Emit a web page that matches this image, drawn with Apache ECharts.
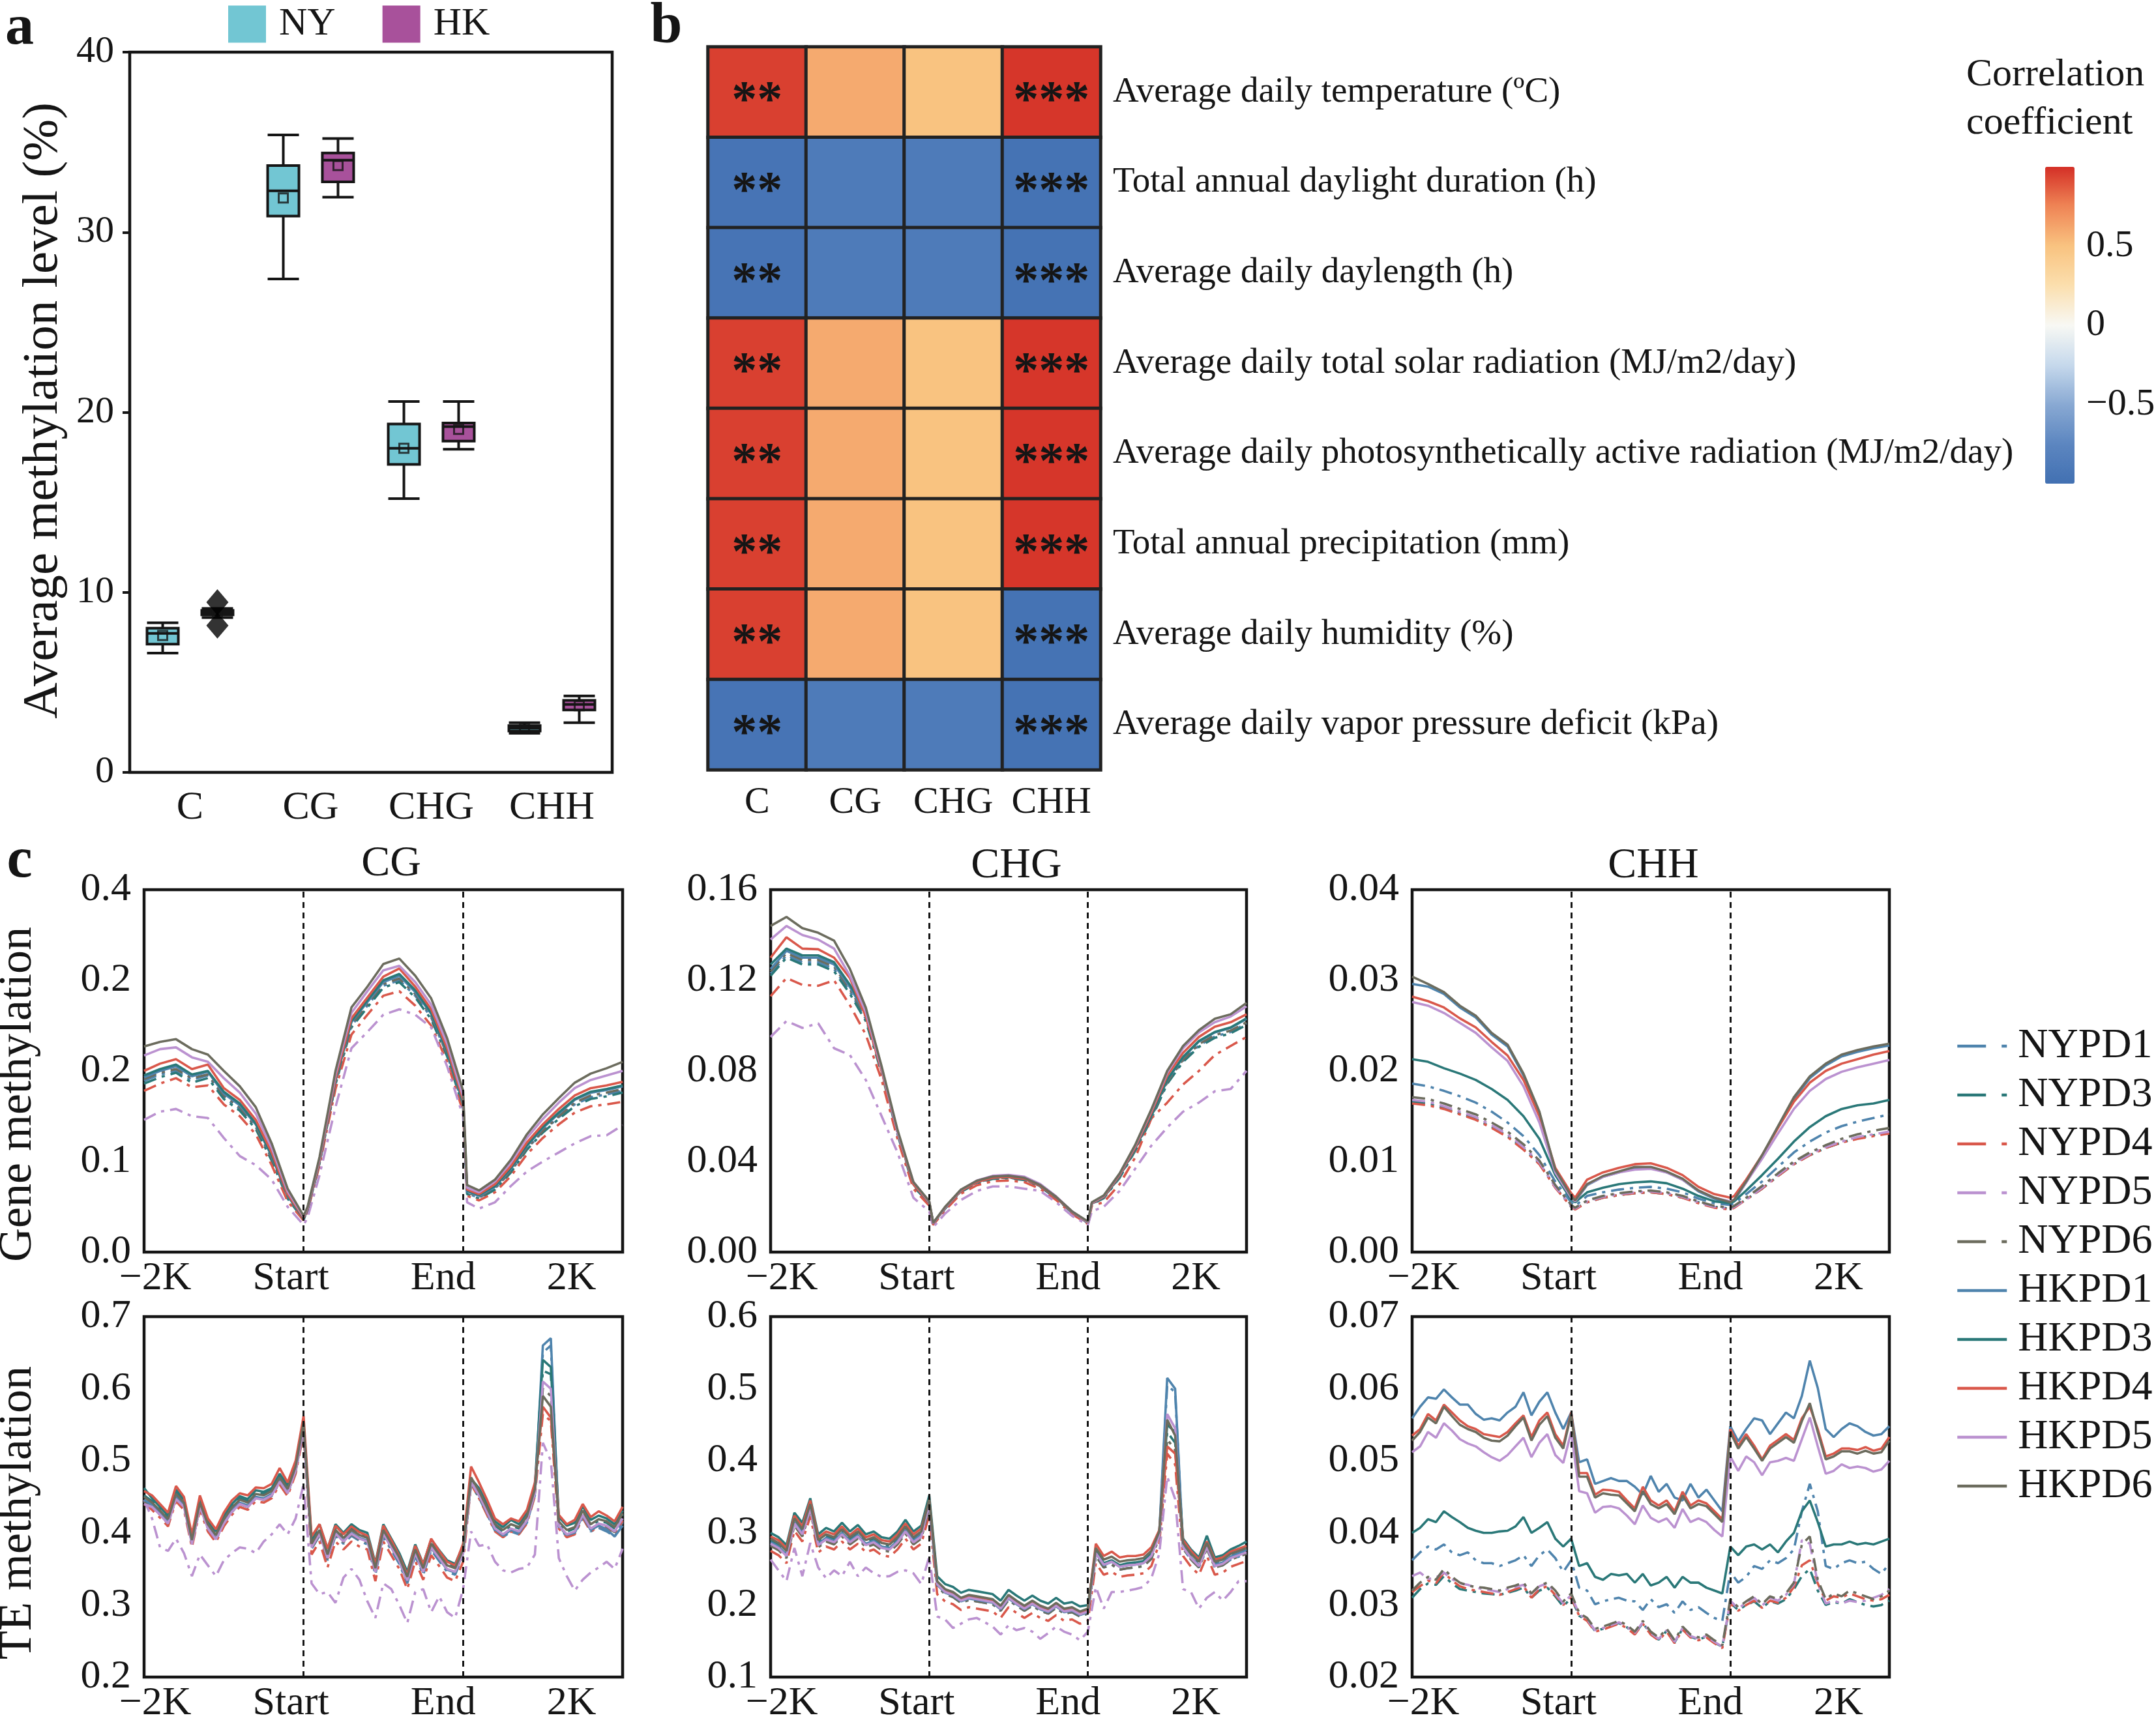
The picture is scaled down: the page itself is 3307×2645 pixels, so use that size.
<!DOCTYPE html>
<html>
<head>
<meta charset="utf-8">
<script src="https://cdn.jsdelivr.net/npm/echarts@6/dist/echarts.min.js"></script>
<style>
  html, body { margin: 0; padding: 0; background: #ffffff; }
  #chart { width: 3307px; height: 2645px; }
</style>
</head>
<body>
<div id="chart"></div>
<script>
// ---- panel a: box plots ----
const boxCats = ['C', 'CG', 'CHG', 'CHH'];
const boxNY = [[6.62, 7.12, 7.72, 8.01, 8.31], [27.4, 30.9, 32.3, 33.7, 35.4], [15.2, 17.1, 18.0, 19.35, 20.6], [2.17, 2.3, 2.46, 2.6, 2.76]];
const boxHK = [[8.6, 8.75, 8.85, 9.0, 9.1], [31.95, 32.8, 34.0, 34.4, 35.2], [17.95, 18.4, 19.2, 19.4, 20.6], [2.76, 3.47, 3.77, 4.0, 4.24]];
const meanNY = [7.6, 31.9, 18.0, 2.45];
const meanHK = [8.85, 33.7, 19.05, 3.7];
const outlierHK = [[0, 9.45], [0, 8.15]];

// ---- panel b: correlation heatmap ----
const heatCols = ['C', 'CG', 'CHG', 'CHH'];
const heatRows = [
  'Average daily temperature (\u00BAC)',
  'Total annual daylight duration (h)',
  'Average daily daylength (h)',
  'Average daily total solar radiation (MJ/m2/day)',
  'Average daily photosynthetically active radiation (MJ/m2/day)',
  'Total annual precipitation (mm)',
  'Average daily humidity (%)',
  'Average daily vapor pressure deficit (kPa)'
];
const heatVals = [
  [0.95, 0.6, 0.5, 0.98],
  [-0.95, -0.88, -0.88, -0.97],
  [-0.95, -0.88, -0.88, -0.97],
  [0.95, 0.6, 0.5, 0.98],
  [0.95, 0.6, 0.5, 0.98],
  [0.95, 0.6, 0.5, 0.98],
  [0.95, 0.6, 0.5, -0.97],
  [-0.95, -0.88, -0.88, -0.97]
];
const heatStars = ['**', '', '', '***'];
const cbTicks = [0.5, 0, -0.5];
const cbTickText = ['0.5', '0', '\u22120.5'];

// ---- panel c: methylation profiles ----
const sampleNames = ['NYPD1', 'NYPD3', 'NYPD4', 'NYPD5', 'NYPD6', 'HKPD1', 'HKPD3', 'HKPD4', 'HKPD5', 'HKPD6'];
const xTickPos = [1.4, 18.4, 37.5, 53.6];
const xTickText = ['\u22122K', 'Start', 'End', '2K'];
const cgGeneTicks = ['0.0', '0.1', '0.2', '0.2', '0.4'];
const geneX = [0, 2, 4, 6, 8, 10, 12, 14, 16, 18, 20, 20.5, 22, 24, 26, 28, 30, 32, 34, 36, 38, 40, 40.5, 42, 44, 46, 48, 50, 52, 54, 56, 58, 60];
const teX = Array.from({ length: 61 }, (_, i) => i);

const cgGene = {
  NYPD1: [.189,.196,.200,.190,.195,.171,.158,.138,.103,.060,.036,.046,.099,.186,.250,.272,.294,.300,.283,.259,.218,.161,.065,.060,.070,.089,.114,.133,.149,.163,.171,.174,.178],
  NYPD3: [.186,.193,.198,.187,.192,.169,.156,.136,.101,.059,.036,.046,.098,.185,.248,.270,.292,.298,.281,.257,.216,.160,.064,.059,.069,.088,.113,.132,.147,.161,.169,.172,.176],
  NYPD4: [.178,.186,.192,.182,.184,.163,.150,.130,.096,.056,.035,.045,.096,.180,.240,.262,.283,.288,.272,.250,.210,.155,.062,.057,.066,.084,.108,.126,.141,.154,.161,.163,.166],
  NYPD5: [.146,.155,.158,.150,.148,.126,.106,.096,.080,.050,.030,.038,.085,.160,.225,.243,.262,.268,.262,.248,.205,.150,.055,.048,.055,.073,.089,.100,.110,.120,.128,.129,.140],
  NYPD6: [.191,.198,.202,.192,.196,.173,.160,.139,.104,.061,.037,.047,.099,.187,.251,.274,.296,.302,.285,.261,.219,.162,.066,.061,.071,.090,.115,.134,.150,.165,.173,.176,.180],
  HKPD1: [.193,.200,.205,.194,.199,.175,.162,.141,.106,.062,.037,.047,.100,.189,.254,.276,.298,.305,.287,.263,.221,.164,.067,.062,.072,.092,.117,.137,.153,.168,.176,.179,.183],
  HKPD3: [.195,.202,.207,.196,.200,.177,.164,.142,.107,.063,.037,.047,.100,.190,.255,.278,.300,.307,.289,.264,.222,.165,.068,.063,.073,.093,.118,.138,.154,.169,.177,.180,.184],
  HKPD4: [.200,.208,.213,.202,.207,.181,.168,.146,.110,.064,.038,.048,.101,.192,.258,.281,.304,.313,.293,.268,.225,.168,.069,.064,.075,.095,.121,.141,.158,.173,.181,.184,.188],
  HKPD5: [.217,.224,.226,.215,.210,.192,.176,.153,.115,.067,.039,.049,.103,.196,.264,.288,.311,.316,.298,.273,.230,.172,.071,.066,.078,.099,.126,.147,.165,.181,.190,.195,.200],
  HKPD6: [.227,.232,.235,.224,.218,.200,.183,.160,.120,.070,.040,.050,.105,.200,.270,.293,.318,.324,.305,.280,.236,.178,.074,.068,.080,.102,.130,.152,.170,.187,.197,.203,.210]
};
const chgGene = {
  NYPD1: [.123,.131,.128,.128,.125,.115,.103,.080,.052,.030,.0217,.0125,.0193,.0268,.0306,.0325,.0328,.032,.029,.0239,.0175,.0129,.0213,.024,.033,.0452,.0592,.0748,.0845,.0912,.0952,.0972,.101],
  NYPD3: [.122,.130,.127,.127,.124,.114,.102,.079,.052,.029,.0216,.0124,.0192,.0266,.0304,.0323,.0326,.0318,.0288,.0237,.0174,.0128,.0212,.0238,.0328,.0449,.0588,.0743,.084,.0906,.0946,.0966,.1003],
  NYPD4: [.113,.121,.118,.1176,.120,.109,.096,.076,.050,.028,.0205,.012,.0185,.0258,.0295,.0313,.0316,.0309,.0279,.023,.0168,.0124,.0205,.022,.030,.042,.059,.066,.074,.080,.087,.091,.095],
  NYPD5: [.095,.102,.099,.101,.090,.087,.076,.060,.044,.024,.018,.011,.017,.023,.027,.029,.029,.028,.027,.022,.016,.012,.018,.020,.027,.037,.047,.055,.062,.066,.071,.072,.080],
  NYPD6: [.124,.132,.129,.129,.126,.116,.104,.080,.053,.030,.0218,.0126,.0194,.0269,.0307,.0326,.0329,.0321,.0291,.024,.0176,.013,.0214,.0241,.0332,.0455,.0595,.0752,.085,.0918,.0958,.0978,.1015],
  HKPD1: [.125,.133,.130,.130,.127,.117,.105,.081,.053,.030,.0218,.0126,.0195,.027,.0309,.0328,.0331,.0323,.0292,.0241,.0177,.013,.0215,.0242,.0335,.046,.060,.076,.086,.093,.097,.099,.103],
  HKPD3: [.127,.134,.131,.131,.128,.118,.106,.081,.053,.030,.0219,.0127,.0196,.0271,.031,.0329,.0332,.0324,.0293,.0242,.0178,.0131,.0216,.0243,.0336,.0461,.0602,.0762,.0862,.0932,.0972,.0992,.1032],
  HKPD4: [.130,.139,.134,.1337,.130,.121,.104,.080,.053,.030,.0220,.0127,.0196,.0271,.031,.0329,.0332,.0324,.0293,.0242,.0178,.0131,.0216,.0245,.034,.0465,.0615,.078,.088,.095,.0995,.1015,.105],
  HKPD5: [.138,.144,.140,.138,.134,.122,.106,.081,.053,.031,.0222,.0128,.0198,.0275,.0316,.0337,.0341,.0333,.030,.0246,.018,.0132,.0218,.0248,.0345,.0472,.0625,.0792,.090,.097,.1015,.104,.1085],
  HKPD6: [.144,.148,.143,.141,.1375,.125,.108,.082,.054,.031,.0225,.013,.020,.0276,.0315,.0334,.0337,.0328,.0296,.0244,.018,.0135,.022,.025,.0347,.0476,.063,.080,.091,.098,.103,.105,.110]
};
const chhGene = {
  NYPD1: [.0186,.0183,.0178,.0172,.0165,.0155,.0143,.0128,.0107,.0078,.0055,.0051,.0062,.0066,.0069,.0071,.0072,.0070,.0066,.0059,.0054,.0052,.0054,.0064,.0078,.0094,.0110,.0122,.0132,.0139,.0144,.0148,.0152],
  NYPD3: [.0166,.0164,.0159,.0153,.0147,.0138,.0128,.0114,.0098,.0072,.0050,.0048,.0055,.0060,.0063,.0065,.0066,.0064,.0060,.0055,.0050,.0048,.0050,.0058,.0070,.0084,.0097,.0107,.0115,.0121,.0126,.0129,.0132],
  NYPD4: [.0164,.0162,.0158,.0152,.0146,.0137,.0127,.0113,.0097,.0071,.0050,.0047,.0055,.0060,.0063,.0065,.0066,.0064,.0060,.0054,.0049,.0047,.0049,.0058,.0070,.0084,.0097,.0107,.0115,.0121,.0125,.0128,.0131],
  NYPD5: [.0168,.0166,.0161,.0155,.0149,.0140,.0130,.0116,.0099,.0072,.0051,.0048,.0056,.0061,.0064,.0066,.0067,.0065,.0061,.0055,.0050,.0048,.0050,.0058,.0071,.0085,.0098,.0108,.0116,.0122,.0127,.0130,.0133],
  NYPD6: [.0171,.0169,.0164,.0158,.0152,.0143,.0133,.0119,.0101,.0074,.0052,.0049,.0057,.0062,.0065,.0067,.0068,.0066,.0062,.0056,.0051,.0049,.0051,.0060,.0073,.0087,.0100,.0110,.0118,.0125,.0130,.0134,.0137],
  HKPD1: [.0296,.0293,.0285,.0270,.0259,.0240,.0227,.0195,.0153,.0090,.0061,.0056,.0074,.0083,.0088,.0093,.0093,.0088,.0080,.0067,.0059,.0054,.0057,.0077,.0106,.0138,.0169,.0192,.0206,.0216,.0221,.0225,.0228],
  HKPD3: [.0213,.0210,.0203,.0197,.0190,.0180,.0168,.0150,.0125,.0085,.0058,.0055,.0066,.0071,.0075,.0077,.0078,.0076,.0070,.0062,.0056,.0054,.0056,.0068,.0085,.0103,.0122,.0138,.0150,.0158,.0162,.0164,.0168],
  HKPD4: [.0282,.0277,.0270,.0258,.0248,.0232,.0217,.0190,.0150,.0093,.0065,.0060,.0080,.0088,.0093,.0097,.0098,.0093,.0085,.0072,.0064,.0060,.0062,.0080,.0107,.0137,.0166,.0187,.0200,.0208,.0213,.0218,.0222],
  HKPD5: [.0276,.0272,.0264,.0253,.0242,.0226,.0211,.0183,.0143,.0088,.0060,.0056,.0075,.0083,.0088,.0091,.0092,.0088,.0080,.0068,.0060,.0056,.0058,.0077,.0103,.0131,.0158,.0178,.0191,.0199,.0204,.0208,.0212],
  HKPD6: [.0304,.0296,.0287,.0272,.0261,.0242,.0229,.0197,.0155,.0091,.0062,.0057,.0075,.0084,.0089,.0094,.0094,.0089,.0081,.0068,.0060,.0055,.0058,.0078,.0107,.0139,.0171,.0194,.0208,.0218,.0223,.0227,.0230]
};
const cgTE = {
  NYPD1: [.444,.437,.426,.414,.448,.437,.384,.436,.406,.390,.413,.429,.440,.436,.448,.446,.451,.470,.454,.485,.540,.378,.396,.362,.396,.385,.396,.389,.384,.342,.395,.376,.357,.330,.368,.342,.376,.361,.346,.342,.369,.466,.449,.426,.403,.394,.402,.398,.414,.452,.650,.660,.408,.395,.398,.421,.402,.407,.402,.395,.415],
  NYPD3: [.452,.444,.433,.421,.456,.444,.392,.444,.414,.399,.421,.437,.448,.444,.456,.454,.460,.479,.463,.494,.550,.387,.406,.372,.406,.395,.406,.399,.395,.353,.406,.387,.368,.341,.379,.353,.387,.372,.357,.353,.379,.472,.456,.433,.410,.402,.410,.406,.421,.459,.625,.620,.414,.402,.406,.429,.410,.417,.414,.406,.425],
  NYPD4: [.440,.432,.421,.409,.444,.432,.380,.432,.402,.387,.409,.425,.436,.432,.444,.442,.448,.467,.451,.482,.538,.370,.388,.352,.388,.377,.388,.381,.377,.333,.388,.369,.350,.322,.361,.335,.369,.354,.338,.333,.360,.468,.448,.425,.402,.394,.402,.398,.413,.451,.565,.555,.406,.394,.398,.421,.402,.409,.406,.398,.417],
  NYPD5: [.446,.420,.380,.375,.392,.372,.340,.370,.355,.340,.362,.372,.380,.378,.372,.388,.398,.412,.398,.420,.468,.330,.315,.318,.303,.338,.350,.335,.305,.282,.330,.322,.300,.275,.318,.322,.290,.312,.290,.282,.322,.402,.382,.384,.360,.348,.345,.350,.352,.370,.525,.500,.365,.340,.320,.335,.345,.352,.360,.350,.378],
  NYPD6: [.443,.436,.425,.413,.447,.436,.384,.436,.406,.391,.413,.429,.440,.436,.448,.446,.452,.470,.455,.485,.542,.379,.398,.364,.398,.387,.398,.391,.387,.345,.398,.379,.360,.333,.371,.345,.379,.364,.349,.345,.371,.468,.450,.428,.405,.397,.405,.401,.416,.454,.600,.590,.409,.397,.401,.424,.405,.412,.409,.401,.420],
  HKPD1: [.446,.439,.428,.416,.450,.439,.386,.438,.408,.392,.415,.431,.442,.438,.450,.448,.454,.473,.457,.488,.545,.382,.400,.366,.400,.389,.400,.393,.389,.346,.399,.380,.360,.333,.371,.345,.379,.364,.349,.345,.372,.470,.452,.428,.405,.396,.404,.400,.416,.455,.660,.670,.410,.397,.400,.424,.404,.410,.405,.395,.410],
  HKPD3: [.462,.448,.436,.424,.460,.447,.394,.448,.417,.402,.424,.440,.451,.447,.459,.457,.462,.482,.466,.496,.548,.392,.412,.378,.412,.400,.412,.404,.400,.358,.412,.392,.372,.346,.384,.357,.391,.376,.362,.357,.383,.475,.462,.440,.416,.408,.418,.412,.428,.466,.640,.630,.422,.410,.414,.437,.418,.424,.420,.412,.431],
  HKPD4: [.458,.452,.440,.428,.465,.450,.398,.452,.420,.405,.428,.445,.455,.452,.463,.462,.468,.490,.470,.500,.562,.395,.412,.378,.410,.398,.409,.401,.396,.356,.410,.390,.368,.342,.382,.356,.392,.375,.360,.355,.385,.492,.470,.446,.420,.412,.420,.416,.432,.470,.575,.560,.425,.412,.418,.440,.422,.430,.424,.416,.436],
  HKPD5: [.440,.436,.425,.413,.447,.436,.384,.436,.406,.391,.413,.429,.440,.436,.448,.446,.452,.471,.455,.486,.545,.380,.399,.365,.399,.388,.399,.392,.388,.346,.399,.380,.361,.334,.372,.346,.380,.365,.350,.346,.372,.470,.452,.429,.406,.398,.406,.402,.417,.455,.610,.600,.410,.398,.402,.425,.406,.413,.410,.402,.420],
  HKPD6: [.450,.442,.431,.419,.454,.442,.390,.442,.412,.397,.419,.435,.446,.442,.454,.452,.458,.477,.461,.492,.553,.385,.404,.370,.404,.393,.404,.397,.393,.351,.404,.385,.366,.339,.377,.351,.385,.370,.355,.351,.377,.477,.458,.435,.412,.404,.412,.408,.423,.461,.590,.575,.416,.404,.408,.431,.412,.419,.416,.408,.427]
};
const chgTE = {
  NYPD1: [.284,.278,.267,.312,.297,.332,.282,.290,.286,.297,.286,.294,.282,.286,.278,.276,.286,.301,.286,.294,.336,.226,.215,.211,.203,.207,.205,.203,.201,.192,.207,.199,.192,.199,.192,.188,.196,.188,.190,.184,.188,.268,.252,.256,.249,.251,.252,.254,.264,.296,.505,.495,.278,.263,.252,.278,.252,.255,.263,.267,.271],
  NYPD3: [.290,.284,.273,.318,.303,.338,.288,.296,.292,.303,.292,.300,.288,.292,.284,.282,.292,.307,.292,.300,.344,.231,.220,.216,.208,.212,.210,.208,.206,.197,.212,.204,.197,.204,.197,.193,.201,.193,.195,.189,.193,.274,.258,.262,.255,.257,.258,.260,.270,.298,.440,.425,.283,.268,.257,.283,.257,.260,.268,.272,.276],
  NYPD4: [.275,.269,.258,.303,.288,.323,.273,.281,.277,.288,.277,.285,.273,.277,.269,.267,.277,.292,.277,.285,.325,.215,.205,.201,.193,.197,.195,.193,.191,.182,.197,.189,.182,.189,.182,.178,.186,.178,.180,.174,.178,.258,.242,.246,.239,.241,.242,.244,.254,.285,.410,.395,.268,.253,.242,.268,.242,.245,.253,.257,.261],
  NYPD5: [.263,.248,.233,.279,.240,.286,.252,.237,.248,.240,.260,.240,.252,.244,.239,.240,.246,.248,.244,.229,.267,.184,.180,.168,.174,.180,.182,.176,.170,.159,.172,.165,.168,.163,.153,.161,.170,.163,.159,.151,.163,.225,.195,.218,.218,.220,.222,.225,.237,.271,.378,.347,.222,.218,.195,.210,.218,.206,.218,.233,.233],
  NYPD6: [.282,.276,.265,.310,.295,.330,.280,.288,.284,.295,.284,.292,.280,.284,.276,.274,.284,.299,.284,.292,.335,.226,.215,.211,.203,.207,.205,.203,.201,.192,.207,.199,.192,.199,.192,.188,.196,.188,.190,.184,.188,.268,.252,.256,.249,.251,.252,.254,.264,.294,.430,.415,.278,.263,.252,.278,.252,.255,.263,.267,.271],
  HKPD1: [.287,.281,.270,.315,.300,.335,.285,.293,.289,.300,.289,.297,.285,.289,.281,.279,.289,.304,.289,.298,.340,.228,.217,.213,.205,.209,.207,.205,.203,.194,.209,.201,.194,.201,.194,.190,.198,.190,.192,.186,.190,.272,.255,.260,.253,.255,.256,.258,.268,.300,.515,.500,.280,.266,.255,.282,.256,.259,.267,.272,.277],
  HKPD3: [.300,.294,.283,.328,.314,.348,.298,.307,.302,.314,.302,.311,.298,.302,.294,.292,.302,.318,.302,.310,.352,.240,.229,.225,.217,.221,.219,.217,.215,.206,.221,.213,.206,.213,.206,.202,.210,.202,.204,.198,.200,.276,.258,.262,.255,.258,.259,.261,.271,.298,.450,.440,.292,.277,.266,.296,.266,.269,.277,.282,.288],
  HKPD4: [.295,.290,.279,.324,.309,.345,.294,.302,.298,.309,.297,.306,.294,.298,.290,.288,.298,.313,.298,.306,.345,.232,.221,.217,.209,.213,.211,.209,.207,.198,.213,.205,.198,.205,.198,.194,.202,.194,.196,.190,.194,.285,.268,.274,.266,.268,.268,.270,.280,.304,.420,.410,.290,.275,.263,.288,.263,.266,.274,.278,.282],
  HKPD5: [.285,.279,.268,.313,.298,.333,.283,.291,.287,.298,.287,.295,.283,.287,.279,.277,.287,.302,.287,.295,.340,.229,.218,.214,.206,.210,.208,.206,.204,.195,.210,.202,.195,.202,.195,.191,.199,.191,.193,.187,.191,.272,.256,.260,.253,.255,.256,.258,.268,.296,.465,.445,.280,.265,.254,.280,.254,.257,.265,.269,.273],
  HKPD6: [.292,.286,.275,.320,.305,.340,.290,.298,.294,.305,.294,.302,.290,.294,.286,.284,.294,.309,.294,.302,.347,.233,.222,.218,.210,.214,.212,.210,.208,.199,.214,.206,.199,.206,.199,.195,.203,.195,.197,.191,.195,.279,.263,.267,.260,.262,.263,.265,.275,.302,.457,.435,.286,.271,.260,.286,.260,.263,.271,.275,.279]
};
const chhTE = {
  NYPD1: [.0362,.0373,.0381,.0377,.0384,.0373,.0369,.0373,.0362,.0358,.0358,.0354,.0358,.0362,.0369,.0354,.0369,.0377,.0365,.0346,.0362,.0324,.0320,.0301,.0305,.0308,.0310,.0306,.0305,.0293,.0308,.0297,.0301,.0289,.0305,.0293,.0297,.0289,.0282,.0278,.0346,.0331,.0339,.0354,.0350,.0362,.0358,.0365,.0377,.0430,.0468,.0430,.0354,.0350,.0358,.0362,.0358,.0360,.0350,.0343,.0358],
  NYPD3: [.0310,.0322,.0330,.0328,.0340,.0330,.0322,.0320,.0318,.0316,.0315,.0314,.0317,.0320,.0324,.0310,.0320,.0324,.0312,.0298,.0310,.0285,.0279,.0264,.0267,.0271,.0275,.0269,.0260,.0275,.0260,.0252,.0264,.0248,.0267,.0256,.0252,.0256,.0248,.0242,.0303,.0293,.0300,.0305,.0296,.0305,.0302,.0308,.0322,.0340,.0350,.0320,.0300,.0304,.0302,.0308,.0304,.0300,.0298,.0300,.0306],
  NYPD4: [.0318,.0326,.0334,.0330,.0345,.0334,.0326,.0322,.0320,.0318,.0316,.0314,.0318,.0322,.0326,.0310,.0322,.0326,.0314,.0300,.0311,.0285,.0278,.0263,.0266,.0270,.0274,.0268,.0259,.0274,.0259,.0251,.0263,.0247,.0266,.0255,.0251,.0255,.0247,.0240,.0302,.0292,.0300,.0306,.0296,.0306,.0303,.0310,.0325,.0355,.0362,.0330,.0306,.0312,.0310,.0316,.0312,.0308,.0306,.0308,.0314],
  NYPD5: [.0340,.0345,.0336,.0338,.0345,.0336,.0330,.0328,.0324,.0322,.0320,.0318,.0322,.0325,.0328,.0314,.0326,.0330,.0316,.0302,.0314,.0287,.0280,.0265,.0268,.0272,.0276,.0270,.0261,.0276,.0261,.0253,.0265,.0249,.0268,.0257,.0253,.0257,.0249,.0242,.0306,.0295,.0303,.0310,.0299,.0310,.0306,.0314,.0329,.0390,.0385,.0330,.0302,.0306,.0302,.0306,.0304,.0306,.0310,.0314,.0322],
  NYPD6: [.0320,.0331,.0339,.0335,.0350,.0339,.0331,.0327,.0325,.0324,.0322,.0320,.0324,.0327,.0331,.0316,.0327,.0331,.0320,.0305,.0316,.0289,.0282,.0267,.0270,.0274,.0278,.0272,.0263,.0278,.0263,.0255,.0267,.0251,.0270,.0259,.0255,.0259,.0251,.0244,.0308,.0297,.0305,.0312,.0301,.0312,.0308,.0316,.0331,.0384,.0395,.0335,.0308,.0316,.0312,.0320,.0316,.0312,.0308,.0312,.0320],
  HKPD1: [.0559,.0575,.0588,.0586,.0599,.0588,.0578,.0578,.0565,.0557,.0559,.0556,.0567,.0575,.0595,.0563,.0582,.0595,.0567,.0544,.0567,.0498,.0502,.0468,.0472,.0476,.0472,.0472,.0464,.0453,.0479,.0457,.0468,.0449,.0445,.0468,.0449,.0460,.0445,.0430,.0548,.0527,.0544,.0559,.0556,.0537,.0552,.0567,.0559,.0590,.0639,.0601,.0544,.0533,.0544,.0552,.0548,.0540,.0535,.0537,.0548],
  HKPD3: [.0400,.0407,.0419,.0415,.0430,.0422,.0415,.0407,.0403,.0400,.0400,.0402,.0403,.0409,.0422,.0400,.0407,.0415,.0392,.0381,.0392,.0354,.0358,.0339,.0335,.0343,.0341,.0343,.0331,.0343,.0327,.0331,.0339,.0324,.0339,.0331,.0331,.0324,.0320,.0316,.0381,.0369,.0381,.0384,.0377,.0384,.0373,.0388,.0400,.0430,.0445,.0415,.0381,.0384,.0384,.0388,.0384,.0386,.0384,.0388,.0392],
  HKPD4: [.0535,.0544,.0565,.0556,.0578,.0567,.0556,.0548,.0544,.0537,.0535,.0533,.0540,.0552,.0563,.0533,.0556,.0567,.0537,.0521,.0567,.0483,.0483,.0453,.0460,.0459,.0457,.0445,.0434,.0464,.0445,.0438,.0445,.0430,.0457,.0438,.0445,.0441,.0430,.0419,.0544,.0521,.0537,.0521,.0502,.0521,.0529,.0537,.0529,.0559,.0575,.0544,.0506,.0510,.0517,.0517,.0515,.0519,.0514,.0517,.0533],
  HKPD5: [.0512,.0520,.0540,.0532,.0552,.0542,.0530,.0524,.0520,.0512,.0505,.0500,.0508,.0520,.0532,.0505,.0525,.0537,.0508,.0497,.0540,.0458,.0455,.0428,.0436,.0437,.0434,.0424,.0412,.0438,.0421,.0415,.0420,.0407,.0433,.0415,.0420,.0415,.0404,.0395,.0506,.0486,.0506,.0498,.0480,.0498,.0500,.0504,.0500,.0530,.0560,.0520,.0482,.0486,.0495,.0490,.0492,.0490,.0485,.0488,.0500],
  HKPD6: [.0528,.0540,.0560,.0552,.0575,.0562,.0550,.0544,.0540,.0532,.0528,.0527,.0535,.0548,.0560,.0528,.0550,.0562,.0532,.0517,.0565,.0478,.0478,.0449,.0455,.0453,.0452,.0441,.0430,.0458,.0440,.0434,.0440,.0426,.0452,.0434,.0440,.0437,.0426,.0415,.0540,.0517,.0533,.0517,.0500,.0517,.0525,.0533,.0525,.0555,.0580,.0540,.0502,.0506,.0513,.0513,.0510,.0514,.0510,.0512,.0528]
};

const SERIF = 'Liberation Serif';
const INK = '#151515';
const NY_COLOR = '#72c6d3';
const HK_COLOR = '#a8519b';
const sampleColor = {
  PD1: '#4f84ad', PD3: '#2a7878', PD4: '#d9584b', PD5: '#bb92d0', PD6: '#6c6c5e'
};

const chart = echarts.init(document.getElementById('chart'));

// boxplot places two boxes at +-42px in a 185px band
const boxShift = 0.2269;

const grids = [
  { left: 199, top: 80, width: 740, height: 1105 },
  { left: 1086, top: 72, width: 602, height: 1109 }
];
const cLeft = [221, 1182, 2166];
const cWidth = [734, 730, 732];
const cTop = [1365, 2020];
const cHeight = [556, 560];
for (let r = 0; r < 2; r++) {
  for (let c = 0; c < 3; c++) {
    grids.push({ left: cLeft[c], top: cTop[r], width: cWidth[c], height: cHeight[r] });
  }
}
grids.forEach((g, i) => {
  g.show = i !== 1;
  g.borderColor = INK;
  g.borderWidth = 4.5;
  g.containLabel = false;
});

const xAxes = [
  {
    type: 'category', gridIndex: 0, data: boxCats,
    axisLine: { show: false }, axisTick: { show: false },
    axisLabel: { fontSize: 62, fontFamily: SERIF, color: INK, margin: 24 }
  },
  { type: 'value', gridIndex: 0, min: 0, max: 4, show: false },
  {
    type: 'category', gridIndex: 1, data: heatCols,
    axisLine: { show: false }, axisTick: { show: false },
    axisLabel: { interval: 0, fontSize: 58, fontFamily: SERIF, color: INK, margin: 22 }
  }
];
const yAxes = [
  {
    type: 'value', gridIndex: 0, min: 0, max: 40, interval: 10,
    splitLine: { show: false }, axisLine: { show: false },
    axisTick: { show: true, length: 11, lineStyle: { color: INK, width: 4 } },
    axisLabel: { fontSize: 58, fontFamily: SERIF, color: INK, margin: 24 }
  },
  {
    type: 'category', gridIndex: 1, data: heatRows, inverse: true, position: 'right',
    axisLine: { show: false }, axisTick: { show: false },
    axisLabel: { interval: 0, fontSize: 55, fontFamily: SERIF, color: INK, margin: 19 }
  }
];

const panelData = [cgGene, chgGene, chhGene, cgTE, chgTE, chhTE];
const panelX = [geneX, geneX, geneX, teX, teX, teX];
const panelY = [
  { min: 0, max: 0.4, interval: 0.1, fmt: v => cgGeneTicks[Math.round(v * 10)] },
  { min: 0, max: 0.16, interval: 0.04, fmt: v => v.toFixed(2) },
  { min: 0, max: 0.04, interval: 0.01, fmt: v => v.toFixed(2) },
  { min: 0.2, max: 0.7, interval: 0.1, fmt: v => v.toFixed(1) },
  { min: 0.1, max: 0.6, interval: 0.1, fmt: v => v.toFixed(1) },
  { min: 0.02, max: 0.07, interval: 0.01, fmt: v => v.toFixed(2) }
];

panelData.forEach((_, p) => {
  xAxes.push({
    type: 'value', gridIndex: 2 + p, min: 0, max: 60,
    splitLine: { show: false }, axisLine: { show: false }, axisTick: { show: false },
    axisLabel: {
      customValues: xTickPos, fontSize: 62, fontFamily: SERIF, color: INK, margin: 10,
      formatter: v => xTickText[xTickPos.indexOf(v)]
    }
  });
  yAxes.push({
    type: 'value', gridIndex: 2 + p,
    min: panelY[p].min, max: panelY[p].max, interval: panelY[p].interval,
    splitLine: { show: false }, axisLine: { show: false }, axisTick: { show: false },
    axisLabel: { fontSize: 62, fontFamily: SERIF, color: INK, margin: 20, formatter: panelY[p].fmt }
  });
});

const series = [
  {
    type: 'boxplot', name: 'NY', xAxisIndex: 0, yAxisIndex: 0, data: boxNY,
    boxWidth: [48, 48],
    itemStyle: { color: NY_COLOR, borderColor: INK, borderWidth: 4 }
  },
  {
    type: 'boxplot', name: 'HK', xAxisIndex: 0, yAxisIndex: 0, data: boxHK,
    boxWidth: [48, 48],
    itemStyle: { color: HK_COLOR, borderColor: INK, borderWidth: 4 }
  },
  {
    type: 'scatter', xAxisIndex: 1, yAxisIndex: 0, symbol: 'rect', symbolSize: 14, z: 5,
    data: meanNY.map((v, i) => [i + 0.5 - boxShift, v]),
    itemStyle: { color: 'rgba(0,0,0,0)', borderColor: INK, borderWidth: 3 }
  },
  {
    type: 'scatter', xAxisIndex: 1, yAxisIndex: 0, symbol: 'rect', symbolSize: 14, z: 5,
    data: meanHK.map((v, i) => [i + 0.5 + boxShift, v]),
    itemStyle: { color: 'rgba(0,0,0,0)', borderColor: INK, borderWidth: 3 }
  },
  {
    type: 'scatter', xAxisIndex: 1, yAxisIndex: 0, symbol: 'diamond', symbolSize: [34, 40], z: 5,
    data: outlierHK.map(d => [d[0] + 0.5 + boxShift, d[1]]),
    itemStyle: { color: '#000000' }
  }
];

const heatIndex = series.length;
const heatData = [];
heatVals.forEach((row, r) => {
  row.forEach((v, c) => {
    heatData.push({
      value: [c, r, v],
      label: { show: heatStars[c] !== '', formatter: heatStars[c] }
    });
  });
});
series.push({
  type: 'heatmap', xAxisIndex: 2, yAxisIndex: 1, data: heatData,
  itemStyle: { borderColor: '#222222', borderWidth: 5 },
  label: { fontSize: 78, fontWeight: 'bold', fontFamily: SERIF, color: INK, offset: [0, 16] }
});

panelData.forEach((d, p) => {
  sampleNames.forEach((name, k) => {
    const col = sampleColor[name.slice(2)];
    const s = {
      type: 'line', name: name, xAxisIndex: 3 + p, yAxisIndex: 2 + p,
      data: panelX[p].map((x, j) => [x, d[name][j]]),
      symbol: 'none', silent: true,
      lineStyle: { color: col, width: 3.6, type: name.startsWith('NY') ? [20, 9, 5, 9] : 'solid' },
      itemStyle: { color: col }
    };
    if (k === 0) {
      s.markLine = {
        silent: true, symbol: 'none', label: { show: false },
        lineStyle: { color: INK, type: [9, 7], width: 3 },
        data: [{ xAxis: 20 }, { xAxis: 40 }]
      };
    }
    series.push(s);
  });
});

const graphics = [];
function addText(text, x, y, size, opts) {
  const o = opts || {};
  graphics.push({
    type: 'text', x: x, y: y, rotation: o.rotation || 0,
    style: {
      text: text, fontSize: size, fontFamily: SERIF, fontWeight: o.weight || 'normal',
      fill: INK, align: o.align || 'center', verticalAlign: 'middle'
    }
  });
}
addText('a', 30, 44, 88, { weight: 'bold' });
addText('b', 1022, 42, 88, { weight: 'bold' });
addText('c', 30, 1322, 88, { weight: 'bold' });
addText('Average methylation level (%)', 67, 630, 77, { rotation: Math.PI / 2 });
addText('Gene methylation', 28, 1679, 72, { rotation: Math.PI / 2 });
addText('TE methylation', 28, 2321, 72, { rotation: Math.PI / 2 });
addText('CG', 600, 1326, 66);
addText('CHG', 1559, 1329, 66);
addText('CHH', 2536, 1329, 66);
addText('Correlation', 3016, 115, 60, { align: 'left' });
addText('coefficient', 3016, 189, 60, { align: 'left' });
// colour bar spans 256..742 for -1..1
cbTicks.forEach((v, i) => {
  addText(cbTickText[i], 3200, 256 + (1 - v) / 2 * 486, 58, { align: 'left' });
});

const option = {
  backgroundColor: '#ffffff',
  animation: false,
  textStyle: { fontFamily: SERIF },
  grid: grids,
  xAxis: xAxes,
  yAxis: yAxes,
  legend: [
    {
      data: [
        { name: 'NY', itemStyle: { color: NY_COLOR, borderWidth: 0 } },
        { name: 'HK', itemStyle: { color: HK_COLOR, borderWidth: 0 } }
      ],
      left: 350, top: 7, padding: 0,
      icon: 'rect', itemWidth: 58, itemHeight: 57, itemGap: 72,
      itemStyle: { borderWidth: 0 },
      textStyle: { fontSize: 60, fontFamily: SERIF, color: INK, padding: [0, 0, 0, 15] }
    },
    {
      data: sampleNames.map(n => ({
        name: n,
        lineStyle: n.startsWith('NY') ? { type: [44, 24, 8, 24] } : { type: 'solid' }
      })),
      orient: 'vertical', left: 3000, top: 1573, padding: 0,
      itemWidth: 76, itemHeight: 10, itemGap: 11,
      itemStyle: { opacity: 0 },
      lineStyle: { width: 4.5 },
      textStyle: { fontSize: 64, lineHeight: 56, fontFamily: SERIF, color: INK, padding: [0, 0, 0, 12] }
    }
  ],
  visualMap: {
    type: 'continuous', min: -1, max: 1, seriesIndex: heatIndex,
    calculable: false, orient: 'vertical', left: 3137, top: 256, padding: 0,
    itemWidth: 45, itemHeight: 486, showLabel: false,
    inRange: {
      color: ['#4270b2', '#5c86c0', '#89a9d3', '#c6d9ec', '#f8f8f4', '#fbdfae', '#f9c380', '#ef8556', '#d42f26']
    }
  },
  graphic: graphics,
  series: series
};

chart.setOption(option);
</script>
</body>
</html>
